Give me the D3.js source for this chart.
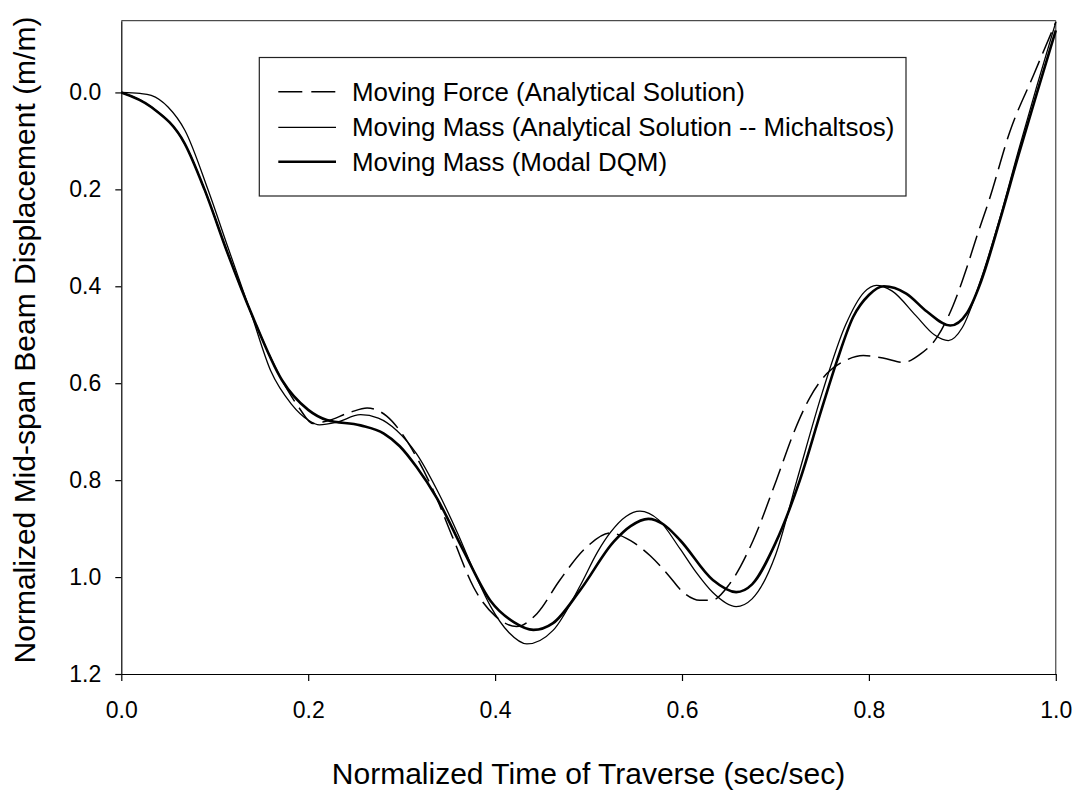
<!DOCTYPE html>
<html>
<head>
<meta charset="utf-8">
<script src="https://cdn.jsdelivr.net/npm/d3@7"></script>
<style>
  html, body { margin: 0; padding: 0; background: #fff; }
  svg { display: block; font-family: "Liberation Sans", Arial, sans-serif; }
</style>
</head>
<body>
<svg id="chart" width="1081" height="790"></svg>
<script>
// Mid-span displacement of a simply supported beam under a traversing load,
// [normalized time, normalized displacement]
const movingForce = [
  [0,0],[0.032,0.03],[0.068,0.106],[0.089,0.2],[0.114,0.333],[0.14,0.46],
  [0.172,0.594],[0.19,0.65],[0.205,0.683],[0.22,0.678],[0.245,0.66],[0.263,0.651],
  [0.284,0.668],[0.3,0.703],[0.318,0.76],[0.334,0.822],[0.355,0.92],[0.377,1.021],
  [0.4,1.08],[0.423,1.102],[0.445,1.075],[0.469,1.007],[0.498,0.938],[0.523,0.909],
  [0.545,0.925],[0.566,0.956],[0.585,0.995],[0.601,1.031],[0.619,1.048],[0.633,1.047],
  [0.651,1.014],[0.676,0.925],[0.701,0.8],[0.72,0.7],[0.737,0.629],[0.755,0.58],
  [0.775,0.553],[0.794,0.543],[0.815,0.548],[0.837,0.557],[0.855,0.54],[0.873,0.505],
  [0.89,0.44],[0.905,0.36],[0.915,0.3],[0.929,0.22],[0.951,0.08],[0.976,-0.035],[1.0,-0.145]
];

const movingMassMichaltsos = [
  [0,0],[0.02,0.002],[0.032,0.006],[0.05,0.03],[0.068,0.078],[0.093,0.202],
  [0.114,0.319],[0.139,0.457],[0.16,0.575],[0.182,0.643],[0.2,0.676],[0.212,0.686],
  [0.23,0.681],[0.256,0.665],[0.275,0.672],[0.295,0.698],[0.316,0.746],[0.338,0.821],
  [0.36,0.91],[0.38,1.0],[0.395,1.06],[0.415,1.115],[0.434,1.138],[0.462,1.11],
  [0.491,1.018],[0.51,0.947],[0.523,0.909],[0.54,0.875],[0.555,0.864],[0.575,0.882],
  [0.598,0.942],[0.615,0.99],[0.633,1.032],[0.658,1.061],[0.675,1.045],[0.7,0.955],
  [0.723,0.8],[0.75,0.62],[0.775,0.48],[0.795,0.412],[0.808,0.398],[0.825,0.41],
  [0.85,0.46],[0.87,0.5],[0.885,0.512],[0.9,0.485],[0.92,0.385],[0.94,0.26],
  [0.96,0.12],[0.98,-0.015],[1.0,-0.145]
];

const movingMassDQM = [
  [0,0],[0.032,0.03],[0.068,0.106],[0.089,0.2],[0.114,0.333],[0.14,0.46],
  [0.172,0.594],[0.2,0.655],[0.22,0.676],[0.256,0.687],[0.281,0.704],[0.298,0.73],
  [0.316,0.773],[0.338,0.838],[0.366,0.945],[0.395,1.049],[0.42,1.093],[0.441,1.109],
  [0.462,1.095],[0.491,1.027],[0.527,0.927],[0.545,0.895],[0.564,0.88],[0.58,0.891],
  [0.598,0.924],[0.633,1.006],[0.658,1.031],[0.675,1.015],[0.7,0.93],[0.726,0.801],
  [0.75,0.65],[0.766,0.553],[0.783,0.464],[0.8,0.418],[0.816,0.4],[0.84,0.415],
  [0.862,0.452],[0.887,0.481],[0.905,0.455],[0.92,0.39],[0.94,0.265],[0.96,0.13],
  [0.98,0.0],[1.0,-0.128]
];

const xTicks = [0, 0.2, 0.4, 0.6, 0.8, 1.0];
const yTicks = [0, 0.2, 0.4, 0.6, 0.8, 1.0, 1.2];

const legendLabels = [
  "Moving Force (Analytical Solution)",
  "Moving Mass (Analytical Solution -- Michaltsos)",
  "Moving Mass (Modal DQM)"
];

const svg = d3.select("#chart");
const plotLeft = 121.3, plotRight = 1055.8, plotTop = 20.7, plotBottom = 674;

const x = d3.scaleLinear().domain([0, 1]).range([plotLeft, plotRight]);
// displacement grows downward
const y = d3.scaleLinear().domain([-0.148, 1.2]).range([plotTop, plotBottom]);

const series = [
  { data: movingForce, width: 1.5, dash: "23,8" },
  { data: movingMassMichaltsos, width: 1.3, dash: null },
  { data: movingMassDQM, width: 2.6, dash: null }
];

// frame (top and right edges)
svg.append("path")
  .attr("d", `M${plotLeft},${plotTop}H${plotRight}V${plotBottom}`)
  .attr("fill", "none").attr("stroke", "#222").attr("stroke-width", 1);

const line = d3.line()
  .x(d => x(d[0])).y(d => y(d[1]))
  .curve(d3.curveMonotoneX);

svg.append("g").selectAll("path")
  .data(series)
  .join("path")
  .attr("d", s => line(s.data))
  .attr("fill", "none")
  .attr("stroke", "#000")
  .attr("stroke-width", s => s.width)
  .attr("stroke-dasharray", s => s.dash)
  .attr("stroke-linejoin", "round");

// axes
const xAxis = svg.append("g")
  .attr("transform", `translate(0,${plotBottom})`)
  .call(d3.axisBottom(x).tickValues(xTicks).tickSize(7).tickSizeOuter(0).tickPadding(21)
    .tickFormat(d3.format(".1f")));
const yAxis = svg.append("g")
  .attr("transform", `translate(${plotLeft},0)`)
  .call(d3.axisLeft(y).tickValues(yTicks).tickSize(6).tickSizeOuter(0).tickPadding(14)
    .tickFormat(d3.format(".1f")));

[xAxis, yAxis].forEach(g => {
  g.selectAll("path.domain").attr("stroke", "#000").attr("stroke-width", 1.2);
  g.selectAll(".tick line").attr("stroke", "#000").attr("stroke-width", 1.2);
  g.selectAll(".tick text")
    .attr("fill", "#000")
    .style("font-family", "'Liberation Sans', Arial, sans-serif")
    .style("font-size", "23px");
});

// axis titles
svg.append("text")
  .attr("x", (plotLeft + plotRight) / 2).attr("y", 784)
  .attr("text-anchor", "middle")
  .style("font-size", "30px")
  .text("Normalized Time of Traverse (sec/sec)");

svg.append("text")
  .attr("transform", `translate(35,340) rotate(-90)`)
  .attr("text-anchor", "middle")
  .style("font-size", "30px")
  .text("Normalized Mid-span Beam Displacement (m/m)");

// legend
const legend = svg.append("g");
legend.append("rect")
  .attr("x", 259.3).attr("y", 57.5)
  .attr("width", 906 - 259.3).attr("height", 196 - 57.5)
  .attr("fill", "#fff").attr("stroke", "#222").attr("stroke-width", 1.2);

const rowY = [91.7, 127.3, 161.7];
const rows = legend.selectAll("g.row")
  .data(series)
  .join("g")
  .attr("class", "row")
  .attr("transform", (d, i) => `translate(0,${rowY[i]})`);

rows.append("line")
  .attr("x1", 278.3).attr("x2", 336)
  .attr("stroke", "#000")
  .attr("stroke-width", s => s.width)
  .attr("stroke-dasharray", s => s.dash ? "24,9" : null);

rows.append("text")
  .attr("x", 352).attr("y", 9)
  .style("font-size", "25.9px")
  .text((d, i) => legendLabels[i]);
</script>
</body>
</html>
